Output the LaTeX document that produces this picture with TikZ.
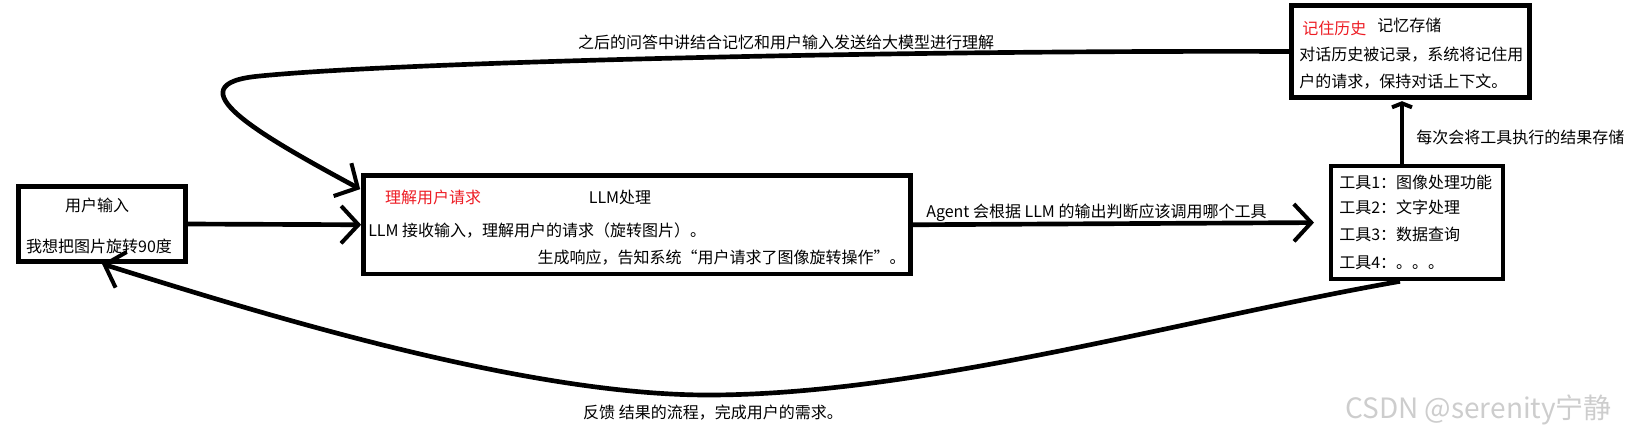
\documentclass[tikz,border=0pt]{standalone}
\usepackage{fontspec}
\setmainfont{Noto Sans CJK SC}
\usetikzlibrary{arrows.meta,calc}
\definecolor{hlred}{RGB}{237,28,36}
\definecolor{wmgray}{RGB}{205,205,205}

\begin{document}
\begin{tikzpicture}[
  x=0.75pt, y=-0.75pt,
  font=\fontsize{12pt}{14pt}\selectfont,
  box/.style={draw, rectangle, line width=3.5pt, inner sep=0pt},
  txt/.style={inner sep=0pt, anchor=west},
  arrline/.style={-{Straight Barb[length=13pt,width=28pt,line width=3pt]}, line width=3.5pt},
  flatbarb/.style={-{Straight Barb[length=3pt,width=15pt,line width=3pt]}, line width=3.5pt},
]
\useasboundingbox (0,0) rectangle (1639,433);

% user input
\node[box, minimum width=125.25pt, minimum height=56.25pt] (user) at (102,224) {};
\node (userT) at (97,205) {用户输入};
\node (userQ) at (99,246) {我想把图片旋转90度};

% LLM
\node[box, minimum width=410.25pt, minimum height=73.9pt] (llm) at (637,224.75) {};
\node[text=hlred] (llmR) at (433,197) {理解用户请求};
\node (llmT) at (620,197) {LLM处理};
\node[txt] (llmA) at (368,231) {LLM 接收输入，理解用户的请求（旋转图片）。};
\node[txt, anchor=east] (llmB) at (906,258) {生成响应，告知系统“用户请求了图像旋转操作”。};

% tools
\node[box, minimum width=129pt, minimum height=84.75pt] (tools) at (1417,222.5) {};
\foreach \i/\t/\y in {1/图像处理功能/182, 2/文字处理/207, 3/数据查询/234, 4/。。。/263}
  \node[txt] (tool\i) at (1339,\y) {工具\i：\t};

% memory
\node[box, minimum width=178.5pt, minimum height=69pt] (mem) at (1410.5,51.5) {};
\node[txt, text=hlred] (memR) at (1302,28) {记住历史};
\node[txt] (memT) at (1377,25) {记忆存储};
\node[txt] (memA) at (1299,55) {对话历史被记录，系统将记住用};
\node[txt] (memB) at (1299,82) {户的请求，保持对话上下文。};

% labels
\node (topL) at (786,42) {之后的问答中讲结合记忆和用户输入发送给大模型进行理解};
\node[txt] (agentL) at (926,213) {Agent 会根据 LLM 的输出判断应该调用哪个工具};
\node[txt] (storeL) at (1416,137) {每次会将工具执行的结果存储};
\node (backL) at (713,413) {反馈 结果的流程，完成用户的需求。};
\node[txt, text=wmgray, font=\fontsize{21pt}{24pt}\selectfont] (mark) at (1345,410) {CSDN @serenity宁静};

% arrows
\draw[arrline] (user.east) -- (llm.west);
\draw[arrline, shorten >=11pt] (llm.east) -- (tools.west);
\draw[flatbarb, shorten >=1pt] ($(tools.north)+(-15,0)$) -- ($(mem.south)+(-8.5,0)$);
\draw[arrline] (mem.west) .. controls (900,50) and (400,62) .. (260,76)
  .. controls (170,84) and (260,135) .. ($(llm.north west)+(-1,16)$);
\draw[arrline] ($(tools.south)+(-17,0)$) .. controls (1180,320) and (920,395) .. (708,395)
  .. controls (520,395) and (250,310) .. (user.south);
\end{tikzpicture}
\end{document}
